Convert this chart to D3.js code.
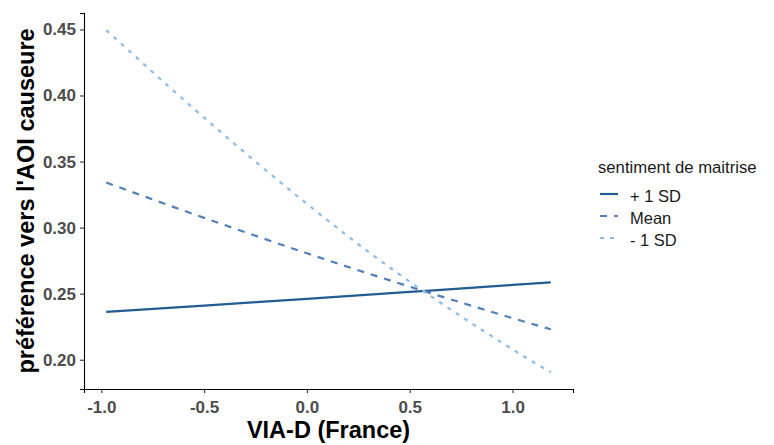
<!DOCTYPE html>
<html>
<head>
<meta charset="utf-8">
<script src="https://cdn.jsdelivr.net/npm/d3@7"></script>
<style>
  html, body { margin: 0; padding: 0; background: #fff; }
  svg { display: block; font-family: "Liberation Sans", Arial, sans-serif; }
</style>
</head>
<body>
<svg id="chart" width="774" height="445"></svg>
<script>
// Predicted preference across VIA-D at three levels of the moderator
const groups = ["+ 1 SD", "Mean", "- 1 SD"];
const viaD = [-0.976, -0.5, 0.0, 0.5, 1.0, 1.186];
const plusSD = [0.2363, 0.2410, 0.2461, 0.2513, 0.2566, 0.2585];
const meanSD = [0.3341, 0.3074, 0.2806, 0.2553, 0.2315, 0.2231];
const minusSD = [0.4495, 0.3832, 0.3180, 0.2591, 0.2079, 0.1908];
const xTicks = [-1.0, -0.5, 0.0, 0.5, 1.0];
const yTicks = [0.20, 0.25, 0.30, 0.35, 0.40, 0.45];

const colors = ["#235b93", "#4f80ba", "#8cbde8"];
const dashes = [null, "7,7", "4,6"];

const svg = d3.select("#chart");
const margin = { left: 84, right: 201, top: 13, bottom: 56 };
const W = 774, H = 445;

const series = [plusSD, meanSD, minusSD];
const allY = series.flat();
const xExt = d3.extent(viaD);
const yExt = d3.extent(allY);
const xPad = (xExt[1] - xExt[0]) * 0.05;
const yPad = (yExt[1] - yExt[0]) * 0.05;

const x = d3.scaleLinear()
  .domain([xExt[0] - xPad, xExt[1] + xPad])
  .range([margin.left, W - margin.right]);
const y = d3.scaleLinear()
  .domain([yExt[0] - yPad, yExt[1] + yPad])
  .range([H - margin.bottom, margin.top]);

// axes
const xAxis = svg.append("g")
  .attr("transform", `translate(0,${H - margin.bottom})`)
  .call(d3.axisBottom(x).tickValues(xTicks).tickFormat(d3.format(".1f")).tickSize(4).tickPadding(8));
const yAxis = svg.append("g")
  .attr("transform", `translate(${margin.left},0)`)
  .call(d3.axisLeft(y).tickValues(yTicks).tickFormat(d3.format(".2f")).tickSize(4).tickPadding(4));

[xAxis, yAxis].forEach(g => {
  g.select(".domain").attr("stroke", "#000").attr("stroke-width", 1.1);
  g.selectAll(".tick line").attr("stroke", "#333").attr("stroke-width", 1.1);
  g.selectAll(".tick text")
    .attr("fill", "#4d4d4d")
    .style("font-size", "17px")
    .style("font-weight", "bold")
    .style("font-family", "'Liberation Sans', Arial, sans-serif");
});
xAxis.selectAll(".tick text").text(d => d3.format(".1f")(d).replace("−", "-"));

// prediction curves
const line = d3.line()
  .x(d => x(d[0]))
  .y(d => y(d[1]))
  .curve(d3.curveNatural);
series.forEach((vals, i) => {
  const pts = viaD.map((xv, j) => [xv, vals[j]]);
  svg.append("path")
    .attr("d", line(pts))
    .attr("fill", "none")
    .attr("stroke", colors[i])
    .attr("stroke-width", 2.2)
    .attr("stroke-dasharray", dashes[i]);
});

// axis titles
svg.append("text")
  .attr("x", (margin.left + W - margin.right) / 2)
  .attr("y", 438)
  .attr("text-anchor", "middle")
  .style("font-size", "23.5px")
  .style("font-weight", "bold")
  .text("VIA-D (France)");

svg.append("text")
  .attr("transform", `translate(34,${(margin.top + H - margin.bottom) / 2}) rotate(-90)`)
  .attr("text-anchor", "middle")
  .style("font-size", "23.5px")
  .style("font-weight", "bold")
  .text("préférence vers l'AOI causeure");

// legend
const legend = svg.append("g").attr("transform", "translate(598,0)");
legend.append("text")
  .attr("x", 0).attr("y", 173)
  .style("font-size", "16.7px")
  .attr("fill", "#1a1a1a")
  .text("sentiment de maitrise");
groups.forEach((g, i) => {
  const base = 202 + i * 22;
  const cy = base - 8;
  legend.append("line")
    .attr("x1", 2).attr("x2", 20)
    .attr("y1", cy).attr("y2", cy)
    .attr("stroke", colors[i])
    .attr("stroke-width", 2.2)
    .attr("stroke-dasharray", dashes[i]);
  legend.append("text")
    .attr("x", 32).attr("y", base)
    .style("font-size", "16.5px")
    .attr("fill", "#1a1a1a")
    .text(g);
});
</script>
</body>
</html>
